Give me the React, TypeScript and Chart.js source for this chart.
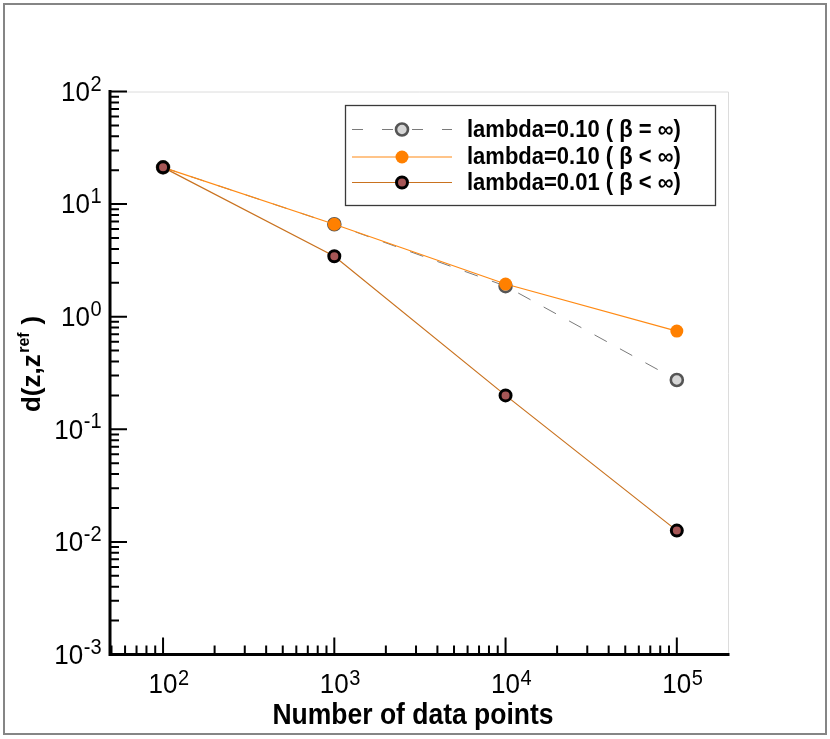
import React, { useEffect, useRef } from "react";
import { Chart, registerables } from "chart.js";

Chart.register(...registerables);

// ---- data ----
const dataPoints = [100, 1000, 10000, 100000];
const seriesBetaInf010 = [21.2, 6.62, 1.87, 0.274];
const seriesBetaFin010 = [21.2, 6.62, 1.95, 0.745];
const seriesBetaFin001 = [21.2, 3.44, 0.2, 0.0126];
const seriesLabels = [
  "lambda=0.10 ( \u03B2 = \u221E)",
  "lambda=0.10 ( \u03B2 < \u221E)",
  "lambda=0.01 ( \u03B2 < \u221E)",
];
const xTickExponents = [2, 3, 4, 5];
const yTickExponents = [-3, -2, -1, 0, 1, 2];
const xRange = [49, 199000];
const yRange = [0.001, 100];
const xTitle = "Number of data points";
const yTitleParts = ["d(z,z", "ref", " )"];

const FONT = '"Liberation Sans", Arial, Helvetica, sans-serif';

type Style = {
  line: string;
  width: number;
  dash: number[];
  radius: number;
  fill: string;
  border: string;
  borderWidth: number;
};

const styles: Style[] = [
  { line: "#7a7a7a", width: 1, dash: [14, 15], radius: 6, fill: "#d6d6d6", border: "#555555", borderWidth: 2.6 },
  { line: "#ff8a14", width: 1.2, dash: [], radius: 6.5, fill: "#ff8000", border: "#ff8000", borderWidth: 0 },
  { line: "#c9721f", width: 1.2, dash: [], radius: 5.5, fill: "#a65656", border: "#000000", borderWidth: 3 },
];

function drawPoint(ctx: CanvasRenderingContext2D, x: number, y: number, s: Style) {
  ctx.save();
  ctx.setLineDash([]);
  ctx.beginPath();
  ctx.arc(x, y, s.radius, 0, Math.PI * 2);
  ctx.fillStyle = s.fill;
  ctx.fill();
  if (s.borderWidth > 0) {
    ctx.lineWidth = s.borderWidth;
    ctx.strokeStyle = s.border;
    ctx.stroke();
  }
  ctx.restore();
}

// draw text slightly stretched vertically (the reference glyphs are taller than wide)
function tallText(ctx: CanvasRenderingContext2D, text: string, x: number, y: number, sy = 1.08) {
  ctx.save();
  ctx.translate(x, y);
  ctx.scale(1, sy);
  ctx.fillText(text, 0, 0);
  ctx.restore();
}

const tecplotPlugin = {
  id: "tecplotDecor",
  beforeDraw(chart: any) {
    const ctx: CanvasRenderingContext2D = chart.ctx;
    ctx.save();
    ctx.fillStyle = "#ffffff";
    ctx.fillRect(0, 0, chart.width, chart.height);
    ctx.strokeStyle = "#858585";
    ctx.lineWidth = 2;
    ctx.strokeRect(4, 4, chart.width - 8, chart.height - 9);
    ctx.restore();
  },
  beforeDatasetsDraw(chart: any) {
    const ctx: CanvasRenderingContext2D = chart.ctx;
    const a = chart.chartArea;
    ctx.save();
    ctx.strokeStyle = "#dcdcdc";
    ctx.lineWidth = 1;
    ctx.beginPath();
    ctx.moveTo(a.left, a.top + 0.5);
    ctx.lineTo(a.right + 0.5, a.top + 0.5);
    ctx.lineTo(a.right + 0.5, a.bottom);
    ctx.stroke();
    ctx.restore();
  },
  afterDatasetsDraw(chart: any) {
    const ctx: CanvasRenderingContext2D = chart.ctx;
    const a = chart.chartArea;
    const xs = chart.scales.x;
    const ys = chart.scales.y;
    ctx.save();

    // axis lines
    ctx.strokeStyle = "#000";
    ctx.lineWidth = 3;
    ctx.lineCap = "square";
    ctx.lineJoin = "miter";
    ctx.beginPath();
    ctx.moveTo(a.left, a.top);
    ctx.lineTo(a.left, a.bottom);
    ctx.lineTo(a.right, a.bottom);
    ctx.stroke();

    // ticks
    ctx.lineCap = "butt";
    ctx.lineWidth = 2;
    ctx.beginPath();
    for (let e = -4; e <= 2; e++) {
      for (let k = 1; k <= 9; k++) {
        const v = k * Math.pow(10, e);
        if (v < yRange[0] * 0.999 || v > yRange[1] * 1.001) continue;
        const py = ys.getPixelForValue(v);
        const len = k === 1 ? 17 : 9;
        ctx.moveTo(a.left, py);
        ctx.lineTo(a.left + len, py);
      }
    }
    for (let e = 1; e <= 5; e++) {
      for (let k = 1; k <= 9; k++) {
        const v = k * Math.pow(10, e);
        if (v < xRange[0] || v > xRange[1]) continue;
        const px = xs.getPixelForValue(v);
        const len = k === 1 ? 17 : 9;
        ctx.moveTo(px, a.bottom);
        ctx.lineTo(px, a.bottom - len);
      }
    }
    ctx.stroke();

    // tick labels
    ctx.fillStyle = "#000";
    const baseFont = `26px ${FONT}`;
    const expFont = `20px ${FONT}`;
    yTickExponents.forEach((e) => {
      const py = ys.getPixelForValue(Math.pow(10, e));
      const exp = String(e);
      ctx.font = baseFont;
      const bw = ctx.measureText("10").width;
      ctx.font = expFont;
      const ew = ctx.measureText(exp).width;
      const right = a.left - 9;
      const start = right - ew - bw;
      ctx.font = baseFont;
      ctx.textAlign = "left";
      ctx.textBaseline = "middle";
      tallText(ctx, "10", start, py + 1.5);
      ctx.font = expFont;
      ctx.textBaseline = "alphabetic";
      tallText(ctx, exp, start + bw + 0.5, py - 1);
    });
    xTickExponents.forEach((e) => {
      const px = xs.getPixelForValue(Math.pow(10, e));
      const exp = String(e);
      ctx.font = baseFont;
      const bw = ctx.measureText("10").width;
      ctx.textAlign = "left";
      ctx.textBaseline = "middle";
      tallText(ctx, "10", px - bw / 2, a.bottom + 31);
      ctx.font = expFont;
      ctx.textBaseline = "alphabetic";
      tallText(ctx, exp, px + bw / 2 + 0.5, a.bottom + 30);
    });

    // x title
    ctx.font = `bold 26.5px ${FONT}`;
    ctx.textAlign = "center";
    ctx.textBaseline = "alphabetic";
    tallText(ctx, xTitle, (a.left + a.right) / 2 - 6, a.bottom + 69);

    // y title (rotated)
    const mainF = `bold 26px ${FONT}`;
    const supF = `bold 16px ${FONT}`;
    ctx.font = mainF;
    const w0 = ctx.measureText(yTitleParts[0]).width;
    const w2 = ctx.measureText(yTitleParts[2]).width;
    ctx.font = supF;
    const w1 = ctx.measureText(yTitleParts[1]).width;
    const total = w0 + w1 + w2 + 2;
    const cy = 364;
    ctx.save();
    ctx.translate(40, cy + total / 2);
    ctx.rotate(-Math.PI / 2);
    ctx.textAlign = "left";
    ctx.textBaseline = "alphabetic";
    ctx.font = mainF;
    ctx.fillText(yTitleParts[0], 0, 0);
    ctx.font = supF;
    ctx.fillText(yTitleParts[1], w0 + 1.5, -11);
    ctx.font = mainF;
    ctx.fillText(yTitleParts[2], w0 + w1 + 2, 0);
    ctx.restore();

    // legend
    const lx = 345.5, ly = 105.5, lw = 370, lh = 100;
    ctx.fillStyle = "#fff";
    ctx.fillRect(lx, ly, lw, lh);
    ctx.strokeStyle = "#3a3a3a";
    ctx.lineWidth = 1.3;
    ctx.strokeRect(lx, ly, lw, lh);
    const rows = [129.5, 157, 182.5];
    seriesLabels.forEach((label, i) => {
      const s = styles[i];
      const ry = rows[i];
      ctx.save();
      ctx.strokeStyle = s.line;
      ctx.lineWidth = s.width;
      if (s.dash.length) {
        ctx.setLineDash([11, 19]);
      }
      ctx.beginPath();
      ctx.moveTo(352, ry);
      ctx.lineTo(452, ry);
      ctx.stroke();
      ctx.restore();
      drawPoint(ctx, 402, ry, s);
      ctx.fillStyle = "#000";
      ctx.font = `bold 22px ${FONT}`;
      ctx.textAlign = "left";
      ctx.textBaseline = "middle";
      tallText(ctx, label, 467, ry + 1, 1.05);
    });

    ctx.restore();
  },
};

export default function App() {
  const canvasRef = useRef<HTMLCanvasElement | null>(null);

  useEffect(() => {
    document.body.style.margin = "0";
    const canvas = canvasRef.current;
    if (!canvas) return;
    const all = [seriesBetaInf010, seriesBetaFin010, seriesBetaFin001];
    const datasets = all.map((vals, i) => {
      const s = styles[i];
      return {
        label: seriesLabels[i],
        data: dataPoints.map((x, j) => ({ x, y: vals[j] })),
        borderColor: s.line,
        borderWidth: s.width,
        borderDash: s.dash,
        pointRadius: s.radius,
        pointHoverRadius: s.radius,
        pointBackgroundColor: s.fill,
        pointBorderColor: s.border,
        pointBorderWidth: s.borderWidth,
        fill: false,
        tension: 0,
        order: 3 - i,
        clip: false as any,
      };
    });
    const chart = new Chart(canvas, {
      type: "line",
      data: { datasets },
      options: {
        responsive: false,
        animation: false,
        events: [],
        layout: { padding: { left: 110, right: 102, top: 91.5, bottom: 84.5 } },
        scales: {
          x: { type: "logarithmic", min: xRange[0], max: xRange[1], display: false },
          y: { type: "logarithmic", min: yRange[0], max: yRange[1], display: false },
        },
        plugins: { legend: { display: false }, tooltip: { enabled: false } },
      },
      plugins: [tecplotPlugin],
    });
    return () => chart.destroy();
  }, []);

  return (
    <div style={{ width: 830, height: 739 }}>
      <canvas ref={canvasRef} width={830} height={739} style={{ display: "block" }} />
    </div>
  );
}
